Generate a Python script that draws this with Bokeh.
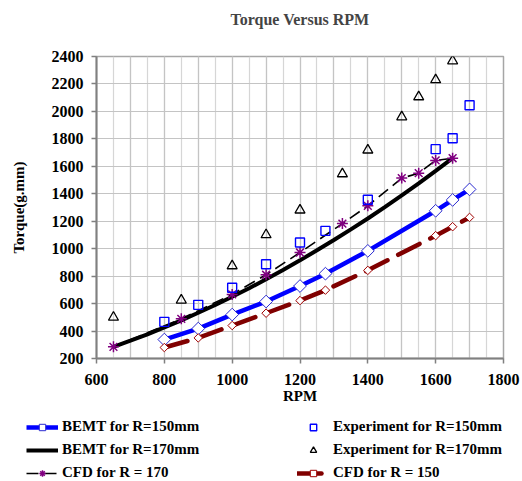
from bokeh.plotting import figure
from bokeh.models import Range1d, SingleIntervalTicker, Legend, LegendItem
from bokeh.layouts import column
from bokeh.embed import file_html
from bokeh.resources import INLINE
import math

# ---- data ----
rpm_bemt150 = [800, 900, 1000, 1100, 1200, 1275, 1400, 1600, 1650, 1700]
torque_bemt150 = [338, 418, 520, 615, 728, 818, 984, 1276, 1355, 1432]

rpm_bemt170 = [650, 700, 750, 800, 850, 900, 950, 1000, 1050, 1100, 1150,
               1200, 1250, 1300, 1350, 1400, 1450, 1500, 1550, 1600, 1650]
torque_bemt170 = [285, 330, 376, 426, 478, 533, 590, 650, 712, 777, 845,
                  915, 988, 1063, 1141, 1220, 1303, 1388, 1476, 1567, 1660]

rpm_cfd170 = [650, 850, 1000, 1100, 1200, 1325, 1400, 1500, 1550, 1600, 1650]
torque_cfd170 = [285, 489, 667, 810, 972, 1183, 1312, 1514, 1550, 1643, 1659]

rpm_cfd150 = [800, 900, 1000, 1100, 1200, 1275, 1400, 1600, 1650, 1700]
torque_cfd150 = [280, 350, 440, 530, 622, 698, 842, 1095, 1160, 1228]

rpm_exp150 = [800, 900, 1000, 1100, 1200, 1275, 1400, 1600, 1650, 1700]
torque_exp150 = [467, 591, 715, 887, 1045, 1130, 1356, 1725, 1805, 2045]

rpm_exp170 = [650, 850, 1000, 1100, 1200, 1325, 1400, 1500, 1550, 1600, 1650]
torque_exp170 = [500, 625, 875, 1101, 1281, 1545, 1718, 1960, 2106, 2230, 2368]

labels = ["BEMT for R=150mm", "BEMT for R=170mm", "CFD for R = 170",
          "Experiment for R=150mm", "Experiment for R=170mm", "CFD for R = 150"]

FONT = "Liberation Serif"

# ---- styles ----
ST_B150_LINE = dict(line_color="#0000ff", line_width=4.5)
ST_B170_LINE = dict(line_color="black", line_width=4)
ST_C170_LINE = dict(line_color="black", line_width=1.6, line_dash="12 6")
ST_C150_LINE = dict(line_color="#800000", line_width=4.5, line_dash="24 12", line_cap="round")
ST_B150_MK = dict(marker="square", angle=math.pi / 4, size=9, fill_color="white",
                  line_color="#2a2ad0", line_width=1)
ST_C150_MK = dict(marker="square", angle=math.pi / 4, size=6, fill_color="white",
                  line_color="#a00000", line_width=1)
ST_C170_MK = dict(marker="asterisk", size=11, line_color="#800080", line_width=1.5)
ST_E150_MK = dict(marker="square", size=9, fill_color=None, line_color="#0000ff", line_width=1.4)
ST_E170_MK = dict(marker="triangle", size=10, fill_color=None, line_color="black", line_width=1.3)


def draw_series(fig):
    """Draw all series on a figure; returns renderers grouped per legend entry."""
    l_b170 = fig.line(rpm_bemt170, torque_bemt170, **ST_B170_LINE)
    l_c170 = fig.line(rpm_cfd170, torque_cfd170, **ST_C170_LINE)
    l_b150 = fig.line(rpm_bemt150, torque_bemt150, **ST_B150_LINE)
    l_c150 = fig.line(rpm_cfd150, torque_cfd150, **ST_C150_LINE)
    m_b150 = fig.scatter(rpm_bemt150, torque_bemt150, **ST_B150_MK)
    m_c150 = fig.scatter(rpm_cfd150, torque_cfd150, **ST_C150_MK)
    m_c170 = fig.scatter(rpm_cfd170, torque_cfd170, **ST_C170_MK)
    m_e150 = fig.scatter(rpm_exp150, torque_exp150, **ST_E150_MK)
    m_e170 = fig.scatter(rpm_exp170, torque_exp170, **ST_E170_MK)
    return [[l_b150, m_b150], [l_b170], [l_c170, m_c170],
            [m_e150], [m_e170], [l_c150, m_c150]]


p = figure(width=522, height=415,
           x_range=Range1d(600, 1800), y_range=Range1d(200, 2400),
           output_backend="svg", toolbar_location=None,
           min_border_left=96, min_border_right=19,
           min_border_top=56, min_border_bottom=57,
           title="Torque Versus RPM\n")
p.frame_align = False

p.title.align = "center"
p.title.vertical_align = "top"
p.title.text_font = FONT
p.title.text_font_style = "bold"
p.title.text_font_size = "16px"
p.title.standoff = 20

p.background_fill_color = "white"
p.border_fill_color = "white"
p.outline_line_color = "#a6a6a6"
p.outline_line_width = 1.5

# grids
p.xgrid.ticker = SingleIntervalTicker(interval=100, num_minor_ticks=2)
p.xgrid.grid_line_color = "#c4c4c4"
p.xgrid.grid_line_width = 1.2
p.xgrid.minor_grid_line_color = "#d6d6d6"
p.xgrid.minor_grid_line_width = 1.2
p.ygrid.ticker = SingleIntervalTicker(interval=200)
p.ygrid.grid_line_color = "#c4c4c4"
p.ygrid.grid_line_width = 1.2

# axes
p.xaxis.ticker = SingleIntervalTicker(interval=200, num_minor_ticks=0)
p.yaxis.ticker = SingleIntervalTicker(interval=200, num_minor_ticks=0)
for ax in (p.xaxis[0], p.yaxis[0]):
    ax.axis_line_color = "#808080"
    ax.axis_line_width = 2
    ax.major_tick_line_color = "#808080"
    ax.major_tick_line_width = 1.5
    ax.major_tick_out = 5
    ax.major_tick_in = 0
    ax.minor_tick_line_color = None
    ax.major_label_text_font = FONT
    ax.major_label_text_font_style = "bold"
    ax.major_label_text_font_size = "16px"
    ax.major_label_text_color = "black"
    ax.axis_label_text_font = FONT
    ax.axis_label_text_font_style = "bold"
    ax.axis_label_text_font_size = "15px"
    ax.axis_label_text_color = "black"

p.xaxis.axis_label = "RPM"
p.xaxis.major_label_standoff = 10
p.xaxis.axis_label_standoff = 0
p.yaxis.axis_label = "Torque(g.mm)"
p.yaxis.major_label_standoff = 8
p.yaxis.axis_label_standoff = 22

draw_series(p)

# ---- legend strip below the chart (same series, plotted out of view) ----
q = figure(width=522, height=66, x_range=Range1d(600, 1800), y_range=Range1d(9000, 9001),
           output_backend="svg", toolbar_location=None,
           x_axis_location=None, y_axis_location=None,
           min_border=0, min_border_left=0, min_border_right=0,
           min_border_top=0, min_border_bottom=0)
q.frame_align = False
q.grid.visible = False
q.outline_line_color = None
q.background_fill_color = "white"
q.border_fill_color = "white"

groups = draw_series(q)
items = [LegendItem(label=lab, renderers=r) for lab, r in zip(labels, groups)]
legend = Legend(items=items, location=(26, 0), ncols=2,
                padding=0, margin=0, spacing=6,
                glyph_width=32, glyph_height=16, label_height=16,
                label_width=229, label_standoff=4,
                background_fill_alpha=0, border_line_color=None,
                label_text_font=FONT, label_text_font_style="bold",
                label_text_font_size="15px", label_text_color="black")
q.add_layout(legend, "center")

layout = column(p, q, spacing=0)
open("out.html", "w").write(file_html(layout, INLINE))
